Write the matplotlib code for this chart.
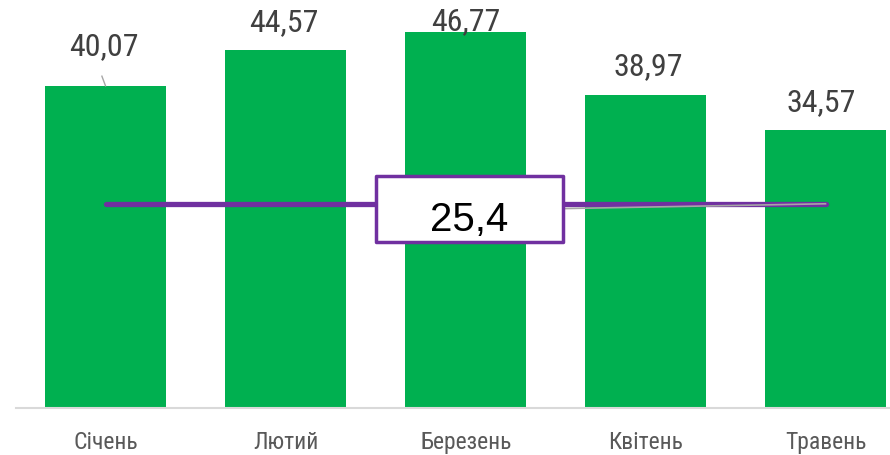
import matplotlib
matplotlib.use("Agg")
from matplotlib import pyplot as plt
from matplotlib.patches import Rectangle

months = ["Січень", "Лютий", "Березень", "Квітень", "Травень"]
values = [40.07, 44.57, 46.77, 38.97, 34.57]
average = [25.4, 25.4, 25.4, 25.4, 25.4]
value_labels = ["40,07", "44,57", "46,77", "38,97", "34,57"]
average_label = "25,4"

label_lift = [40, 28, 11, 29, 28]      # pixels above bar top
label_shift = [-2, -2, 0, 3, -4]       # pixels sideways

green = "#00B050"
purple = "#7030A0"
grey_text = "#404040"
narrow = ["Roboto Condensed", "DejaVu Sans"]

fig = plt.figure(figsize=(8.9, 4.56), dpi=100)
ax = fig.add_axes([15.5 / 890, 47 / 456, 900 / 890, 402 / 456])

x = list(range(len(months)))
ax.bar(x, values, width=0.672, color=green, zorder=2)
ax.plot(x, average, color=purple, linewidth=3.8, solid_capstyle="round", zorder=3)

for i, v in enumerate(values):
    ax.annotate(value_labels[i], xy=(i, v), xytext=(label_shift[i], label_lift[i]),
                textcoords="offset pixels", ha="center", va="center",
                fontsize=23, color=grey_text, family=narrow, zorder=5)
# leader line for the first label
ax.plot([-0.02, 0.0], [values[0] + 1.2, values[0]], color="#A6A6A6", lw=1, zorder=4)

# box label for the average line
bx, bw, bh = 2.02, 1.04, 8.2
by = average[2] - 0.6
ax.plot([bx + bw / 2, x[-1]], [by, average[-1]], color="#A6A6A6", lw=1.2, zorder=3.5)
ax.add_patch(Rectangle((bx - bw / 2, by - bh / 2), bw, bh, facecolor="white",
                       edgecolor=purple, linewidth=2.5, zorder=6, joinstyle="round"))
ax.text(bx, by - 1.3, average_label, ha="center", va="center", fontsize=29,
        color="black", family=["Liberation Sans", "DejaVu Sans"], zorder=7)

ax.set_xlim(-0.5, 4.5)
ax.set_ylim(0, 50)
ax.set_xticks(x)
ax.set_xticklabels(months, fontsize=17, color="#595959", family=narrow)
ax.tick_params(axis="x", length=0, pad=16)
ax.set_yticks([])
for s in ["top", "right", "left"]:
    ax.spines[s].set_visible(False)
ax.spines["bottom"].set_color("#D9D9D9")
ax.spines["bottom"].set_linewidth(1.5)
ax.set_facecolor("none")

plt.savefig("out.png", dpi=100)
plt.close(fig)
